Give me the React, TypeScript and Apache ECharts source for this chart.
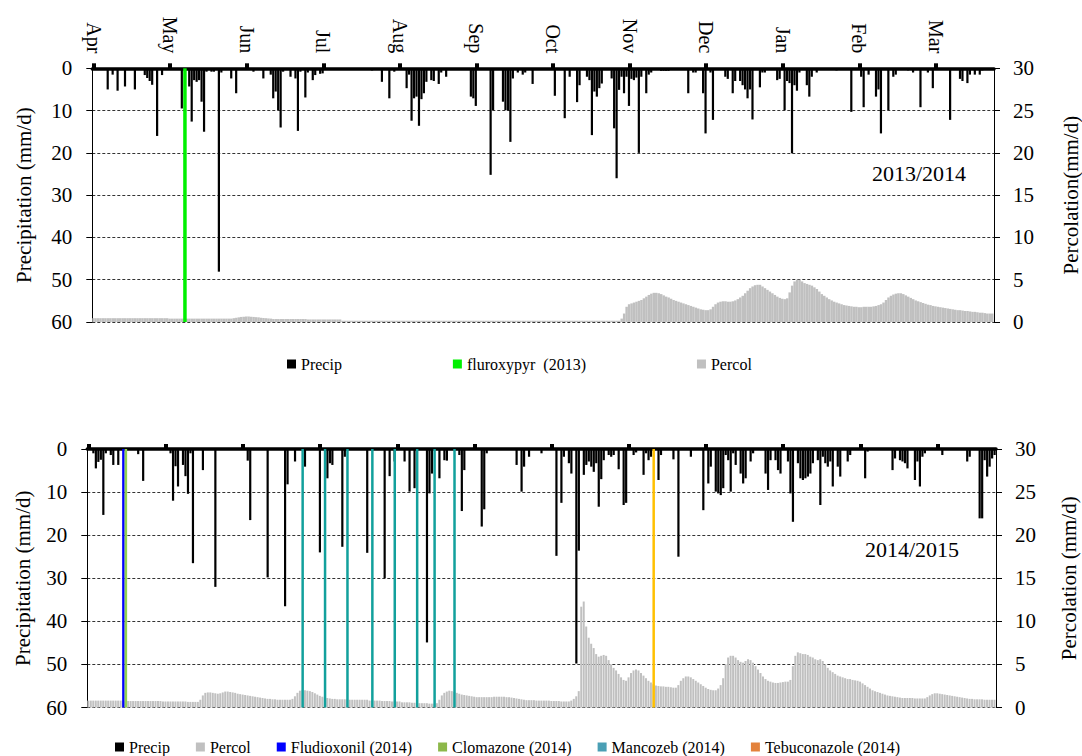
import { useEffect, useRef } from 'react';
import * as echarts from 'echarts';

const FONT = 'Liberation Serif';
const DAYS = 365;

// Month tick labels (one every 31 days from 1 April)
const monthLabels = ['Apr', 'May', 'Jun', 'Jul', 'Aug', 'Sep', 'Oct', 'Nov', 'Dec', 'Jan', 'Feb', 'Mar'];

// ---------- 2013/2014 ----------
// daily precipitation [dayIndex from 1 Apr, mm/d]; days not listed are 0
const precip2013: [number, number][] = [
  [6, 5.0], [8, 1.5], [10, 5.3], [13, 4.3], [17, 5.0], [21, 1.6], [22, 2.3], [23, 3.0], [24, 3.9], [26, 16.0],
  [28, 1.6], [36, 9.5], [39, 4.3], [40, 12.6], [41, 2.8], [42, 3.2], [43, 2.8], [44, 7.9], [45, 15.0], [46, 0.8],
  [48, 0.8], [49, 0.8], [51, 48.1], [52, 1.0], [56, 2.4], [58, 5.9], [65, 0.8], [69, 2.4], [72, 1.5], [73, 7.1],
  [74, 5.5], [75, 9.9], [76, 14.0], [77, 0.8], [80, 2.0], [82, 2.4], [83, 14.8], [84, 0.8], [86, 6.9], [87, 1.0],
  [89, 2.8], [90, 1.6], [92, 1.3], [93, 1.2], [113, 0.5], [114, 0.4], [117, 3.2], [120, 7.1], [122, 0.8], [127, 4.7],
  [128, 1.5], [129, 12.4], [130, 7.1], [131, 6.7], [132, 13.6], [133, 7.3], [134, 5.9], [135, 3.2], [137, 2.8], [138, 3.0],
  [140, 3.7], [141, 1.0], [143, 2.0], [153, 6.7], [154, 7.1], [155, 8.9], [161, 25.2], [162, 9.9], [166, 7.9], [167, 9.9],
  [168, 10.0], [169, 17.4], [170, 2.4], [172, 1.0], [174, 1.5], [175, 1.0], [178, 3.7], [187, 6.5], [191, 11.8], [193, 2.0],
  [196, 8.0], [197, 4.0], [200, 2.0], [201, 2.8], [202, 15.8], [203, 5.5], [204, 6.7], [205, 4.7], [206, 3.6], [210, 2.4],
  [211, 14.2], [212, 26.0], [213, 5.1], [214, 2.0], [215, 5.9], [216, 2.0], [217, 8.9], [218, 2.5], [219, 2.8], [220, 2.2],
  [221, 20.0], [222, 2.0], [224, 5.9], [225, 1.5], [226, 1.0], [230, 0.6], [231, 0.6], [232, 0.6], [233, 0.6], [241, 5.9],
  [243, 1.0], [244, 1.0], [247, 5.9], [248, 15.4], [250, 1.0], [251, 12.2], [256, 2.0], [257, 2.5], [259, 5.9], [260, 3.0],
  [262, 3.0], [263, 4.0], [264, 5.0], [265, 7.1], [266, 5.0], [267, 12.1], [270, 4.5], [271, 1.0], [272, 1.0], [277, 2.8],
  [278, 2.5], [280, 9.9], [281, 3.0], [282, 3.5], [283, 20.1], [284, 4.0], [285, 5.3], [286, 1.0], [289, 4.0], [290, 6.7],
  [291, 2.0], [293, 1.0], [301, 0.5], [307, 10.3], [311, 2.0], [312, 9.2], [314, 1.5], [317, 6.7], [318, 5.0], [319, 15.4],
  [322, 9.9], [324, 2.0], [325, 1.5], [330, 0.5], [332, 1.0], [335, 9.2], [338, 1.0], [340, 4.7], [347, 12.2], [351, 2.5],
  [352, 3.0], [354, 3.5], [355, 1.5], [357, 1.5], [359, 1.5], [360, 0.5],
];

// daily percolation (mm/d), 365 values from 1 Apr 2013
const percol2013: number[] = [
  0.45, 0.45, 0.45, 0.45, 0.45, 0.45, 0.45, 0.45, 0.45, 0.45,
  0.45, 0.45, 0.45, 0.45, 0.45, 0.45, 0.45, 0.45, 0.45, 0.45,
  0.45, 0.45, 0.45, 0.45, 0.45, 0.45, 0.45, 0.45, 0.45, 0.45,
  0.45, 0.4, 0.4, 0.4, 0.4, 0.4, 0.4, 0.4, 0.4, 0.4,
  0.4, 0.4, 0.4, 0.4, 0.4, 0.4, 0.4, 0.4, 0.4, 0.4,
  0.4, 0.4, 0.4, 0.4, 0.4, 0.4, 0.4, 0.45, 0.5, 0.55,
  0.6, 0.62, 0.65, 0.65, 0.62, 0.6, 0.57, 0.55, 0.5, 0.47,
  0.45, 0.42, 0.4, 0.35, 0.35, 0.35, 0.35, 0.35, 0.35, 0.35,
  0.35, 0.35, 0.35, 0.35, 0.35, 0.35, 0.35, 0.3, 0.3, 0.3,
  0.3, 0.3, 0.3, 0.3, 0.3, 0.3, 0.3, 0.3, 0.3, 0.3,
  0.3, 0.15, 0.15, 0.15, 0.15, 0.15, 0.15, 0.15, 0.15, 0.15,
  0.15, 0.15, 0.15, 0.15, 0.15, 0.15, 0.15, 0.15, 0.15, 0.15,
  0.15, 0.15, 0.15, 0.15, 0.15, 0.15, 0.15, 0.15, 0.15, 0.15,
  0.15, 0.15, 0.15, 0.15, 0.15, 0.15, 0.15, 0.15, 0.15, 0.15,
  0.15, 0.15, 0.15, 0.15, 0.15, 0.15, 0.15, 0.15, 0.15, 0.15,
  0.15, 0.15, 0.15, 0.15, 0.15, 0.15, 0.15, 0.15, 0.15, 0.15,
  0.15, 0.15, 0.15, 0.15, 0.15, 0.15, 0.15, 0.15, 0.15, 0.15,
  0.15, 0.15, 0.15, 0.15, 0.15, 0.15, 0.15, 0.15, 0.15, 0.15,
  0.15, 0.15, 0.15, 0.15, 0.15, 0.15, 0.15, 0.15, 0.15, 0.15,
  0.15, 0.15, 0.15, 0.15, 0.15, 0.15, 0.15, 0.15, 0.15, 0.15,
  0.15, 0.15, 0.15, 0.15, 0.15, 0.15, 0.15, 0.15, 0.15, 0.15,
  0.15, 0.15, 0.15, 0.15, 0.4, 1.0, 1.8, 2.1, 2.2, 2.3,
  2.4, 2.5, 2.6, 2.8, 3.0, 3.2, 3.35, 3.45, 3.45, 3.4,
  3.3, 3.15, 3.0, 2.9, 2.75, 2.6, 2.5, 2.4, 2.3, 2.2,
  2.1, 2.0, 1.9, 1.8, 1.7, 1.6, 1.5, 1.45, 1.4, 1.4,
  1.5, 1.8, 2.1, 2.3, 2.4, 2.45, 2.45, 2.4, 2.4, 2.45,
  2.55, 2.7, 2.9, 3.1, 3.4, 3.7, 4.0, 4.2, 4.35, 4.4,
  4.4, 4.2, 4.0, 3.8, 3.6, 3.4, 3.2, 3.0, 2.85, 2.75,
  2.7, 2.8, 3.5, 4.3, 4.8, 5.0, 5.0, 4.8, 4.6, 4.5,
  4.4, 4.3, 4.1, 3.9, 3.6, 3.3, 3.1, 2.9, 2.7, 2.55,
  2.4, 2.3, 2.2, 2.1, 2.0, 1.95, 1.9, 1.85, 1.8, 1.8,
  1.75, 1.75, 1.8, 1.8, 1.8, 1.8, 1.85, 1.9, 2.0, 2.1,
  2.3, 2.6, 2.9, 3.1, 3.25, 3.35, 3.4, 3.4, 3.3, 3.15,
  3.0, 2.85, 2.7, 2.55, 2.45, 2.35, 2.25, 2.15, 2.05, 2.0,
  1.9, 1.85, 1.8, 1.75, 1.7, 1.65, 1.6, 1.55, 1.5, 1.45,
  1.4, 1.4, 1.35, 1.3, 1.3, 1.25, 1.2, 1.2, 1.15, 1.1,
  1.1, 1.05, 1.0, 1.0, 1.0,
];

// application days (day index from 1 Apr)
const fluroxypyrDays2013 = [37];

// ---------- 2014/2015 ----------
const precip2014: [number, number][] = [
  [2, 1.0], [3, 4.5], [4, 3.0], [5, 2.5], [6, 15.3], [7, 1.0], [9, 1.4], [10, 3.7], [12, 3.7], [20, 1.2],
  [22, 7.4], [33, 1.0], [34, 12.0], [35, 4.0], [36, 8.7], [38, 3.7], [39, 6.3], [40, 10.4], [41, 1.0], [42, 26.5],
  [46, 4.9], [51, 32.0], [64, 2.7], [65, 16.5], [72, 29.8], [79, 36.5], [80, 8.2], [83, 2.9], [87, 4.1], [93, 24.0],
  [96, 6.8], [97, 3.3], [98, 3.7], [102, 22.7], [103, 1.8], [112, 24.1], [119, 30.0], [121, 6.3], [123, 2.9], [127, 2.9],
  [129, 9.9], [131, 9.1], [136, 44.9], [137, 10.3], [138, 5.7], [141, 6.8], [143, 2.6], [144, 2.7], [149, 1.4], [150, 14.4],
  [151, 4.9], [158, 18.0], [159, 14.0], [160, 1.0], [172, 3.7], [174, 9.9], [175, 4.1], [177, 1.8], [182, 1.0], [188, 24.8],
  [190, 12.5], [191, 1.8], [193, 3.3], [194, 5.7], [196, 49.8], [197, 23.6], [199, 6.0], [200, 3.7], [201, 2.9], [202, 4.1],
  [203, 5.3], [204, 3.3], [205, 13.4], [206, 7.0], [207, 2.6], [209, 1.4], [210, 1.8], [211, 1.4], [213, 4.7], [215, 13.0],
  [216, 12.5], [219, 1.4], [220, 0.8], [223, 6.0], [224, 1.0], [225, 2.6], [226, 1.8], [229, 7.2], [230, 1.4], [235, 2.4],
  [237, 25.0], [242, 1.8], [247, 14.2], [249, 8.0], [250, 4.1], [252, 9.9], [253, 10.3], [254, 10.7], [255, 9.1], [256, 1.4],
  [257, 2.6], [258, 9.9], [259, 1.0], [260, 3.7], [262, 5.7], [263, 8.0], [264, 6.8], [266, 2.9], [267, 1.0], [272, 5.7],
  [273, 9.5], [274, 2.6], [276, 2.6], [277, 4.9], [278, 5.7], [281, 2.9], [282, 10.3], [283, 16.9], [285, 3.3], [286, 6.8],
  [287, 7.2], [288, 6.8], [289, 6.4], [290, 5.7], [291, 3.3], [293, 2.6], [294, 13.0], [295, 1.8], [296, 3.3], [297, 4.1],
  [298, 2.9], [299, 8.7], [301, 4.1], [302, 6.4], [305, 2.9], [306, 1.4], [312, 6.8], [313, 0.6], [323, 4.9], [324, 2.2],
  [326, 2.6], [327, 2.9], [328, 3.3], [329, 4.5], [332, 7.2], [333, 2.9], [334, 8.7], [335, 1.8], [336, 1.0], [343, 1.4],
  [353, 2.9], [354, 1.8], [358, 16.1], [359, 16.1], [360, 2.6], [361, 6.4], [362, 4.1], [363, 2.2], [364, 1.4],
];

const percol2014: number[] = [
  0.8, 0.8, 0.8, 0.8, 0.8, 0.8, 0.8, 0.8, 0.8, 0.8,
  0.8, 0.8, 0.8, 0.8, 0.8, 0.75, 0.75, 0.75, 0.75, 0.75,
  0.75, 0.75, 0.75, 0.75, 0.75, 0.75, 0.75, 0.75, 0.75, 0.75,
  0.7, 0.7, 0.7, 0.7, 0.7, 0.7, 0.7, 0.7, 0.7, 0.7,
  0.65, 0.65, 0.65, 0.65, 0.65, 0.9, 1.4, 1.7, 1.75, 1.75,
  1.7, 1.65, 1.6, 1.65, 1.75, 1.85, 1.85, 1.8, 1.75, 1.7,
  1.6, 1.55, 1.5, 1.45, 1.4, 1.35, 1.3, 1.25, 1.2, 1.15,
  1.1, 1.05, 1.0, 1.0, 0.95, 0.95, 0.9, 0.9, 0.9, 0.9,
  0.9, 0.9, 1.0, 1.3, 1.7, 1.95, 2.0, 2.0, 1.95, 1.9,
  1.8, 1.65, 1.5, 1.35, 1.25, 1.15, 1.1, 1.05, 1.0, 1.0,
  0.95, 0.95, 0.95, 0.95, 0.95, 0.9, 0.9, 0.9, 0.9, 0.9,
  0.9, 0.9, 0.9, 0.8, 0.8, 0.8, 0.8, 0.8, 0.75, 0.75,
  0.75, 0.75, 0.7, 0.7, 0.7, 0.7, 0.6, 0.6, 0.6, 0.6,
  0.55, 0.55, 0.55, 0.5, 0.5, 0.5, 0.5, 0.45, 0.45, 0.45,
  0.5, 0.9, 1.4, 1.7, 1.85, 1.95, 1.9, 1.8, 1.7, 1.6,
  1.5, 1.45, 1.4, 1.35, 1.3, 1.25, 1.2, 1.2, 1.2, 1.2,
  1.2, 1.2, 1.2, 1.25, 1.25, 1.25, 1.25, 1.25, 1.2, 1.2,
  1.15, 1.1, 1.05, 1.0, 0.95, 0.9, 0.85, 0.85, 0.85, 0.85,
  0.8, 0.8, 0.8, 0.8, 0.8, 0.8, 0.75, 0.75, 0.75, 0.75,
  0.7, 0.7, 0.7, 0.7, 0.8, 1.0, 1.3, 1.9, 11.7, 12.3,
  9.4, 8.1, 7.4, 6.9, 6.2, 5.9, 6.0, 6.1, 6.0, 5.5,
  5.0, 4.6, 4.3, 3.9, 3.5, 3.2, 3.1, 3.5, 4.0, 4.3,
  4.4, 4.3, 4.0, 3.7, 3.4, 3.1, 2.9, 2.7, 2.55, 2.5,
  2.45, 2.45, 2.4, 2.4, 2.35, 2.3, 2.3, 2.6, 3.1, 3.4,
  3.6, 3.6, 3.5, 3.3, 3.1, 2.9, 2.7, 2.5, 2.3, 2.15,
  2.05, 2.0, 2.0, 2.2, 2.6, 3.4, 5.0, 5.8, 6.0, 6.0,
  5.8, 5.5, 5.3, 5.2, 5.4, 5.6, 5.5, 5.2, 4.8, 4.4,
  4.0, 3.6, 3.3, 3.1, 3.0, 2.9, 2.85, 2.85, 2.9, 2.95,
  3.0, 3.0, 3.2, 4.8, 6.0, 6.4, 6.3, 6.2, 6.2, 6.1,
  5.9, 5.8, 5.6, 5.5, 5.6, 5.4, 5.0, 4.6, 4.3, 4.1,
  3.9, 3.7, 3.6, 3.5, 3.4, 3.3, 3.3, 3.2, 3.15, 3.1,
  3.0, 2.8, 2.6, 2.4, 2.2, 2.0, 1.9, 1.8, 1.7, 1.6,
  1.5, 1.4, 1.35, 1.3, 1.25, 1.2, 1.15, 1.1, 1.1, 1.1,
  1.1, 1.1, 1.05, 1.05, 1.05, 1.05, 1.05, 1.2, 1.4, 1.55,
  1.65, 1.65, 1.6, 1.55, 1.5, 1.45, 1.4, 1.35, 1.3, 1.25,
  1.2, 1.15, 1.1, 1.05, 1.0, 1.0, 0.95, 0.95, 0.95, 0.95,
  0.9, 0.9, 0.9, 0.9, 0.9,
];

const fludioxonilDays2014 = [14];
const clomazoneDays2014 = [15];
const mancozebDays2014 = [86, 95, 104, 114, 123, 132, 139, 147];
const tebuconazoleDays2014 = [227];

// ---------- option building ----------
const dayCategories = Array.from({ length: DAYS }, (_, i) => String(i));

function denseFromPairs(pairs: [number, number][]) {
  const out: number[] = dayCategories.map(() => 0);
  pairs.forEach(([d, v]) => {
    out[d] = v;
  });
  return out;
}

function applicationData(days: number[], lineColor: string) {
  return dayCategories.map((_, i) => (days.includes(i) ? { value: 60, itemStyle: { color: lineColor } } : null));
}

const isMonthTick = (index: number) => index % 31 === 0;

function xAxisFor(gridIndex: number, showLabels: boolean) {
  return {
    type: 'category',
    gridIndex,
    position: 'top',
    data: dayCategories,
    boundaryGap: true,
    axisLine: { show: true, onZero: false, lineStyle: { color: '#000', width: 3.5 } },
    axisTick: {
      show: true,
      alignWithLabel: true,
      interval: (index: number) => isMonthTick(index),
      length: 5,
      lineStyle: { color: '#000', width: 4 },
    },
    axisLabel: {
      show: showLabels,
      interval: (index: number) => isMonthTick(index),
      rotate: 90,
      margin: 15,
      formatter: (_v: string, index: number) => monthLabels[Math.floor(index / 31)] ?? '',
      fontFamily: FONT,
      fontSize: 20,
      color: '#000',
    },
    splitLine: { show: false },
  };
}

function yAxesFor(gridIndex: number, rightName: string, leftGap: number, rightGap: number) {
  return [
    {
      type: 'value',
      gridIndex,
      position: 'left',
      inverse: true,
      min: 0,
      max: 60,
      interval: 10,
      name: 'Precipitation (mm/d)',
      nameLocation: 'middle',
      nameGap: leftGap,
      nameTextStyle: { fontFamily: FONT, fontSize: 21, color: '#000' },
      axisLine: { show: true, lineStyle: { color: '#000', width: 1 } },
      axisTick: { show: true, length: 6, lineStyle: { color: '#000', width: 1 } },
      axisLabel: { fontFamily: FONT, fontSize: 21, color: '#000', margin: 20 },
      splitLine: { show: true, lineStyle: { color: '#333', type: [3, 2], width: 1 } },
    },
    {
      type: 'value',
      gridIndex,
      position: 'right',
      min: 0,
      max: 30,
      interval: 5,
      name: rightName,
      nameLocation: 'middle',
      nameGap: rightGap,
      nameTextStyle: { fontFamily: FONT, fontSize: 21, color: '#000' },
      axisLine: { show: true, lineStyle: { color: '#000', width: 1 } },
      axisTick: { show: true, length: 6, lineStyle: { color: '#000', width: 1 } },
      axisLabel: { fontFamily: FONT, fontSize: 21, color: '#000', margin: 19 },
      splitLine: { show: false },
    },
  ];
}

const PERCOL_COLOR = '#c0c0c0';

const option = {
  animation: false,
  backgroundColor: '#ffffff',
  textStyle: { fontFamily: FONT },
  grid: [
    { left: 92.3, top: 68.3, width: 901.7, height: 253.7, containLabel: false, outerBoundsMode: 'none' },
    { left: 87.3, top: 449, width: 908.7, height: 258.5, containLabel: false, outerBoundsMode: 'none' },
  ],
  xAxis: [xAxisFor(0, true), xAxisFor(1, false)],
  yAxis: [
    ...yAxesFor(0, 'Percolation(mm/d)', 58, 66),
    ...yAxesFor(1, 'Percolation (mm/d)', 54, 62),
  ],
  legend: [
    {
      left: 282,
      top: 351,
      icon: 'rect',
      itemWidth: 9,
      itemHeight: 9,
      itemGap: 111,
      selectedMode: false,
      textStyle: { fontFamily: FONT, fontSize: 16, color: '#000' },
      data: ['Precip', 'fluroxypyr  (2013)', 'Percol'],
    },
    {
      left: 110,
      top: 734,
      icon: 'rect',
      itemWidth: 9,
      itemHeight: 9,
      itemGap: 26,
      selectedMode: false,
      textStyle: { fontFamily: FONT, fontSize: 16, color: '#000' },
      data: ['Precip', 'Percol', 'Fludioxonil (2014)', 'Clomazone (2014)', 'Mancozeb (2014)', 'Tebuconazole (2014)'],
    },
  ],
  graphic: [
    {
      type: 'text',
      x: 919,
      y: 173,
      style: { text: '2013/2014', fontFamily: FONT, fontSize: 22, fill: '#000', align: 'center', verticalAlign: 'middle' },
    },
    {
      type: 'text',
      x: 912,
      y: 549,
      style: { text: '2014/2015', fontFamily: FONT, fontSize: 22, fill: '#000', align: 'center', verticalAlign: 'middle' },
    },
  ],
  series: [
    // panel 1
    {
      name: 'Percol', type: 'bar', xAxisIndex: 0, yAxisIndex: 1, data: percol2013,
      barWidth: '100%', barGap: '-100%', itemStyle: { color: PERCOL_COLOR },
    },
    {
      name: 'Precip', type: 'bar', xAxisIndex: 0, yAxisIndex: 0, data: denseFromPairs(precip2013),
      barWidth: 2.2, barGap: '-100%', itemStyle: { color: '#000' },
    },
    {
      name: 'fluroxypyr  (2013)', type: 'bar', xAxisIndex: 0, yAxisIndex: 0,
      data: applicationData(fluroxypyrDays2013, '#00f000'),
      barWidth: 3.5, barGap: '-100%', itemStyle: { color: '#00f000' },
    },
    // panel 2
    {
      name: 'Percol', type: 'bar', xAxisIndex: 1, yAxisIndex: 3, data: percol2014,
      barWidth: '80%', barGap: '-100%', itemStyle: { color: PERCOL_COLOR },
    },
    {
      name: 'Precip', type: 'bar', xAxisIndex: 1, yAxisIndex: 2, data: denseFromPairs(precip2014),
      barWidth: 2.2, barGap: '-100%', itemStyle: { color: '#000' },
    },
    {
      name: 'Fludioxonil (2014)', type: 'bar', xAxisIndex: 1, yAxisIndex: 2,
      data: applicationData(fludioxonilDays2014, '#0000ff'),
      barWidth: 2.5, barGap: '-100%', itemStyle: { color: '#0000ff' },
    },
    {
      name: 'Clomazone (2014)', type: 'bar', xAxisIndex: 1, yAxisIndex: 2,
      data: applicationData(clomazoneDays2014, '#92d050'),
      barWidth: 2.5, barGap: '-100%', itemStyle: { color: '#8db84a' },
    },
    {
      name: 'Mancozeb (2014)', type: 'bar', xAxisIndex: 1, yAxisIndex: 2,
      data: applicationData(mancozebDays2014, '#12a09c'),
      barWidth: 2.5, barGap: '-100%', itemStyle: { color: '#4a9fb5' },
    },
    {
      name: 'Tebuconazole (2014)', type: 'bar', xAxisIndex: 1, yAxisIndex: 2,
      data: applicationData(tebuconazoleDays2014, '#ffc000'),
      barWidth: 2.5, barGap: '-100%', itemStyle: { color: '#e3823c' },
    },
  ],
};

export default function App() {
  const ref = useRef<HTMLDivElement>(null);
  useEffect(() => {
    if (!ref.current) return;
    const chart = echarts.init(ref.current, undefined, { renderer: 'svg' });
    chart.setOption(option as any);
    return () => chart.dispose();
  }, []);
  return (
    <div
      ref={ref}
      style={{ position: 'fixed', left: 0, top: 0, width: 1082, height: 756, background: '#fff' }}
    />
  );
}
